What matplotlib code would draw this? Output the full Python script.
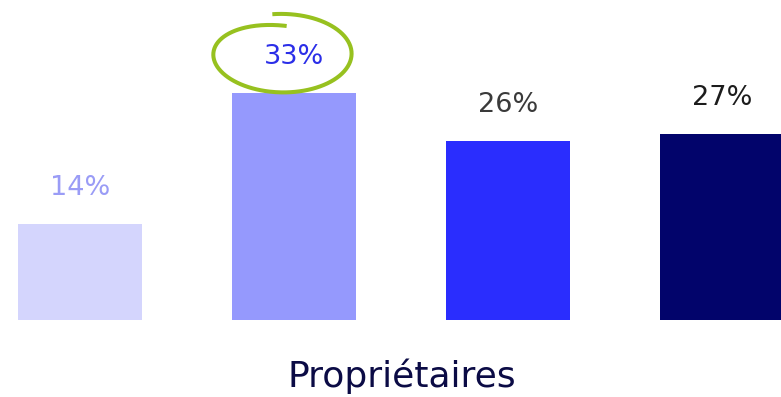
import numpy as np
import matplotlib
matplotlib.use("Agg")
import matplotlib.pyplot as plt
from matplotlib.transforms import IdentityTransform

# Data
groups = ["G1", "G2", "G3", "G4"]
values = [14, 33, 26, 27]
bar_colors = ["#d4d5fd", "#9599fd", "#2a2dfe", "#02046b"]
label_colors = ["#9a9cf6", "#2b2ee8", "#3a3a3a", "#1c1c1c"]
xlabel = "Propriétaires"
highlight = 1  # index of circled value

fig = plt.figure(figsize=(7.81, 3.97), dpi=100)
ax = fig.add_axes([0, 0, 1, 1])

x = np.arange(len(values))
ax.bar(x, values, width=0.58, color=bar_colors, edgecolor="none")

for i, v in enumerate(values):
    ax.annotate(f"{v}%", xy=(x[i], v), xytext=(0, 26), textcoords="offset points",
                ha="center", va="center", fontsize=19.5, color=label_colors[i],
                family="DejaVu Sans")

ax.set_xlim(-0.374, 3.276)
ax.set_ylim(-11.19, 46.5)
ax.axis("off")

fig.text(0.515, 0.025, xlabel, ha="center", va="baseline", fontsize=26,
         color="#0b0b45", family="DejaVu Sans")

# hand-drawn green loop around the highlighted label (display pixels)
fig.canvas.draw()
cx, cy = ax.transData.transform((x[highlight], values[highlight]))
cx, cy = cx - 13, cy + 39
t = np.linspace(0, 1, 300)
theta = np.deg2rad(97 - 372 * t)
rx = 71 - 6 * t ** 2
ry = 40 - 12 * t ** 3
px = cx + rx * np.cos(theta)
py = cy + ry * np.sin(theta)
ax.add_line(plt.Line2D(px, py, transform=IdentityTransform(), color="#97c11f",
                       lw=2.9, solid_capstyle="butt", clip_on=False))

fig.savefig("out.png", dpi=100)
